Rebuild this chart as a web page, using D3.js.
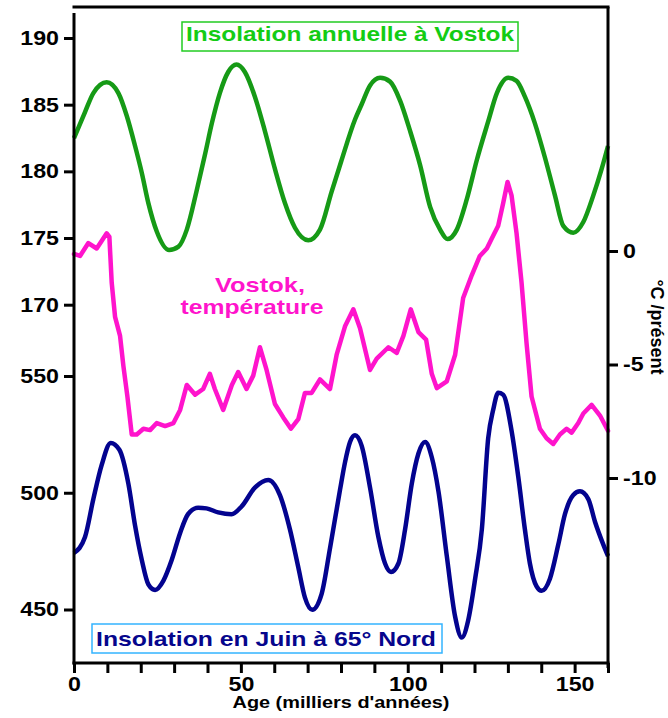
<!DOCTYPE html>
<html>
<head>
<meta charset="utf-8">
<script src="https://cdn.jsdelivr.net/npm/d3@7"></script>
<style>
  html, body { margin: 0; padding: 0; background: #fff; }
  svg { display: block; }
  text { font-family: "Liberation Sans", Arial, Helvetica, sans-serif; font-weight: bold; }
</style>
</head>
<body>
<svg id="chart" width="668" height="718"></svg>
<script>
// ---------------- DATA ----------------
// Annual insolation at Vostok (left scale, upper)
const greenAge = [0,3.3,5.8,9.8,13.3,15.8,18.3,20.3,22.3,24.8,28.5,31.3,33.8,36.8,39.3,41.3,43.7,46.2,48.7,51.2,54.2,57.2,60.2,63.2,66.2,70.2,73.7,77.2,80,84.2,86.2,88.7,91.7,94.7,97.7,100.7,103.7,106.7,109.7,111.9,114.7,117.7,120.7,124.1,126.7,130.1,132.6,135.1,138.1,141.1,144.1,146.6,149.6,152.6,155.6,158.1,160];
const greenInsol = [182.5,184.45,185.87,186.68,185.87,184.17,181.9,179.9,177.6,175.49,174.1,174.35,175.63,178.6,181.32,183.6,185.87,187.45,188.01,187.45,185.6,183.02,180.18,177.62,175.77,174.83,175.63,178.48,180.7,183.89,185.03,186.44,187.01,186.73,185.31,183.03,180.47,177.34,175.63,174.92,175.63,177.91,180.85,183.74,185.87,187.01,186.79,185.6,183.6,181.04,178.2,175.91,175.4,176.2,178.2,180.18,181.9];

// Vostok temperature, °C relative to present (right scale)
const tempAge = [0,1.8,4.3,6.8,9.8,10.6,11.3,12.3,13.8,14.8,16.0,17.3,18.8,20.8,22.8,24.8,27.3,29.8,31.8,33.8,36.3,38.7,40.7,42.2,44.7,47.3,49.2,51.7,53.7,55.7,57.7,60.2,62.7,65.0,67.2,69.2,71.2,73.7,76.7,78.7,81.2,83.7,85.7,88.7,90.7,94.2,96.7,98.7,100.9,103.2,105.5,107.2,108.7,111.7,114.2,116.6,119.2,121.6,123.7,125.1,127.1,128.6,129.9,131.1,132.6,134.1,135.6,137.1,139.6,141.6,143.6,145.6,147.6,149.1,151.1,152.6,155.1,157.6,160];
const tempVals = [-0.13,-0.22,0.35,0.11,0.78,0.62,-1.4,-2.9,-3.74,-5.07,-6.41,-8.08,-8.08,-7.83,-7.89,-7.58,-7.71,-7.58,-7.0,-5.9,-6.33,-6.08,-5.41,-6.08,-7.0,-5.9,-5.33,-6.08,-5.49,-4.24,-5.24,-6.74,-7.33,-7.83,-7.41,-6.25,-6.25,-5.66,-6.08,-4.57,-3.32,-2.57,-3.4,-5.24,-4.74,-4.24,-4.49,-3.74,-2.57,-3.57,-3.9,-5.41,-6.04,-5.74,-4.57,-2.07,-1.06,-0.22,0.11,0.53,1.11,2.11,3.04,2.45,0.78,-1.4,-4.07,-6.41,-7.83,-8.25,-8.5,-8.08,-7.83,-8.0,-7.58,-7.16,-6.78,-7.25,-7.92];

// June insolation at 65°N (left scale, lower)
const juneAge = [0,3.3,5.8,8.3,11.0,13.6,16.3,18.3,20.3,22.3,24.3,26.8,29.3,31.8,34.2,37.2,39.7,43.2,47.2,50.2,54.2,58.2,61.7,64.7,67.2,69.2,71.4,74.2,76.7,79.7,81.2,82.7,84.2,86.2,88.7,91.2,93.2,95.0,97.2,99.2,101.2,103.2,105.2,107.2,109.2,111.7,114.2,116.2,118.1,120.2,122.2,124.1,125.6,127.1,128.6,131.1,133.1,135.1,136.6,138.6,140.1,142.6,145.1,147.1,149.6,151.6,154.1,156.1,158.6,160];
const juneInsol = [474.2,481.05,497.3,511.9,521.3,518.4,503.8,485.9,471.3,460.7,458.4,462.4,471.3,482.8,490.9,493.6,493.3,491.6,490.8,494.1,502.2,505.5,499.0,484.3,468.1,455.1,449.9,456.7,476.2,501.2,513.0,521.7,524.6,520.1,502.2,481.05,469.7,466.1,469.7,484.3,503.8,516.8,521.7,515.2,500.6,472.9,446.9,438.0,445.3,463.2,484.3,523.3,535.5,542.8,542.0,526.6,507.0,484.3,469.7,459.9,458.0,463.2,477.8,490.8,499.0,500.6,497.3,487.6,477.8,472.9];

// Tick labels
const ageTicks = [0,10,20,30,40,50,60,70,80,90,100,110,120,130,140,150,160];
const ageLabels = [0,50,100,150];
const greenTicks = [170,175,180,185,190];
const juneTicks = [450,500,550];
const tempTicks = [0,-5,-10];

// Texts
const greenLegend = "Insolation annuelle à Vostok";
const juneLegend = "Insolation en Juin à 65° Nord";
const tempLabel = ["Vostok,", "température"];
const xTitle = "Age (milliers d'années)";
const yRightTitle = "°C /présent";

// ---------------- CHART ----------------
const svg = d3.select("#chart");
const pLeft = 74, pRight = 608, pTop = 13, pBottom = 663;
const STRETCH = 1.16;

const x = d3.scaleLinear().domain([0, 160]).range([pLeft, pRight]);
const yGreen = d3.scaleLinear().domain([170, 190]).range([304.7, 38]);
const yTemp = d3.scaleLinear().domain([-10, 0]).range([478, 251]);
const yJune = d3.scaleLinear().domain([450, 550]).range([609.5, 376]);

const GREEN = "#169a16", MAGENTA = "#ff14cc", NAVY = "#03038f";
const plainFmt = d => String(d);

function stretch(sel, k) {
  sel.each(function () {
    const len = this.getComputedTextLength();
    if (len > 0) {
      d3.select(this).attr("textLength", len * k).attr("lengthAdjust", "spacingAndGlyphs");
    }
  });
}

// Curves
const lineGreen = d3.line().x((d, i) => x(greenAge[i])).y(d => yGreen(d)).curve(d3.curveMonotoneX);
const lineTemp = d3.line().x((d, i) => x(tempAge[i])).y(d => yTemp(d)).curve(d3.curveLinear);
const lineJune = d3.line().x((d, i) => x(juneAge[i])).y(d => yJune(d)).curve(d3.curveMonotoneX);

svg.append("path").datum(greenInsol).attr("d", lineGreen)
  .attr("fill", "none").attr("stroke", GREEN).attr("stroke-width", 4.5)
  .attr("stroke-linejoin", "round");
svg.append("path").datum(tempVals).attr("d", lineTemp)
  .attr("fill", "none").attr("stroke", MAGENTA).attr("stroke-width", 4.5)
  .attr("stroke-linejoin", "round").attr("stroke-linecap", "round");
svg.append("path").datum(juneInsol).attr("d", lineJune)
  .attr("fill", "none").attr("stroke", NAVY).attr("stroke-width", 4.5)
  .attr("stroke-linejoin", "round");

// Frame lines
svg.append("line").attr("x1", pLeft - 1.5).attr("x2", pRight + 1.5).attr("y1", 7).attr("y2", 7)
  .attr("stroke", "#000").attr("stroke-width", 3);
svg.append("line").attr("x1", pLeft).attr("x2", pLeft).attr("y1", pTop).attr("y2", pBottom + 1.5)
  .attr("stroke", "#000").attr("stroke-width", 3);
svg.append("line").attr("x1", pRight).attr("x2", pRight).attr("y1", 7).attr("y2", 668)
  .attr("stroke", "#000").attr("stroke-width", 3);
svg.append("line").attr("x1", pLeft - 1.5).attr("x2", pRight + 1.5).attr("y1", pBottom).attr("y2", pBottom)
  .attr("stroke", "#000").attr("stroke-width", 3);

function styleAxis(g) {
  g.select(".domain").remove();
  g.selectAll(".tick line").attr("stroke", "#000").attr("stroke-width", 3);
  g.selectAll(".tick text").attr("fill", "#000")
    .style("font-size", "20px").style("font-weight", "bold")
    .style("font-family", '"Liberation Sans", Arial, sans-serif');
}

// Left axes
const gGreen = svg.append("g").attr("transform", `translate(${pLeft},0)`)
  .call(d3.axisLeft(yGreen).tickValues(greenTicks).tickSize(10).tickPadding(5).tickFormat(plainFmt));
styleAxis(gGreen);
const gJune = svg.append("g").attr("transform", `translate(${pLeft},0)`)
  .call(d3.axisLeft(yJune).tickValues(juneTicks).tickSize(10).tickPadding(5).tickFormat(plainFmt));
styleAxis(gJune);

// Right axis
const gTemp = svg.append("g").attr("transform", `translate(${pRight},0)`)
  .call(d3.axisRight(yTemp).tickValues(tempTicks).tickSize(10).tickPadding(5).tickFormat(plainFmt));
styleAxis(gTemp);

// Bottom axis
const gX = svg.append("g").attr("transform", `translate(0,${pBottom})`)
  .call(d3.axisBottom(x).tickValues(ageTicks).tickSize(10).tickPadding(4)
    .tickFormat(d => ageLabels.includes(d) ? String(d) : ""));
styleAxis(gX);

[gGreen, gJune, gTemp, gX].forEach(g => stretch(g.selectAll(".tick text"), STRETCH));

// Axis titles
const xt = svg.append("text").attr("x", (pLeft + pRight) / 2).attr("y", 708)
  .attr("text-anchor", "middle").style("font-size", "17px").attr("fill", "#000").text(xTitle);
stretch(xt, 1.17);

svg.append("text").attr("transform", "translate(651,327) rotate(90)")
  .attr("text-anchor", "middle").style("font-size", "18px").attr("fill", "#000").text(yRightTitle);

// Legend: annual insolation
svg.append("rect").attr("x", 182).attr("y", 22).attr("width", 336).attr("height", 29)
  .attr("fill", "#fff").attr("stroke", "#22cc22").attr("stroke-width", 1.5);
const gl = svg.append("text").attr("x", 350).attr("y", 41)
  .attr("text-anchor", "middle").style("font-size", "20.5px").attr("fill", "#14cc14").text(greenLegend);
gl.attr("textLength", 328).attr("lengthAdjust", "spacingAndGlyphs");

// Legend: June insolation
svg.append("rect").attr("x", 92).attr("y", 624).attr("width", 350).attr("height", 29)
  .attr("fill", "#fff").attr("stroke", "#33b4ff").attr("stroke-width", 1.5);
const jl = svg.append("text").attr("x", 96).attr("y", 646)
  .attr("text-anchor", "start").style("font-size", "21px").attr("fill", "#06068c").text(juneLegend);
jl.attr("textLength", 340).attr("lengthAdjust", "spacingAndGlyphs");

// Temperature label
const t1 = svg.append("text").attr("x", 260).attr("y", 292).attr("text-anchor", "middle")
  .style("font-size", "21px").attr("fill", MAGENTA).text(tempLabel[0]);
t1.attr("textLength", 90).attr("lengthAdjust", "spacingAndGlyphs");
const t2 = svg.append("text").attr("x", 252).attr("y", 314).attr("text-anchor", "middle")
  .style("font-size", "21px").attr("fill", MAGENTA).text(tempLabel[1]);
t2.attr("textLength", 143).attr("lengthAdjust", "spacingAndGlyphs");
</script>
</body>
</html>
